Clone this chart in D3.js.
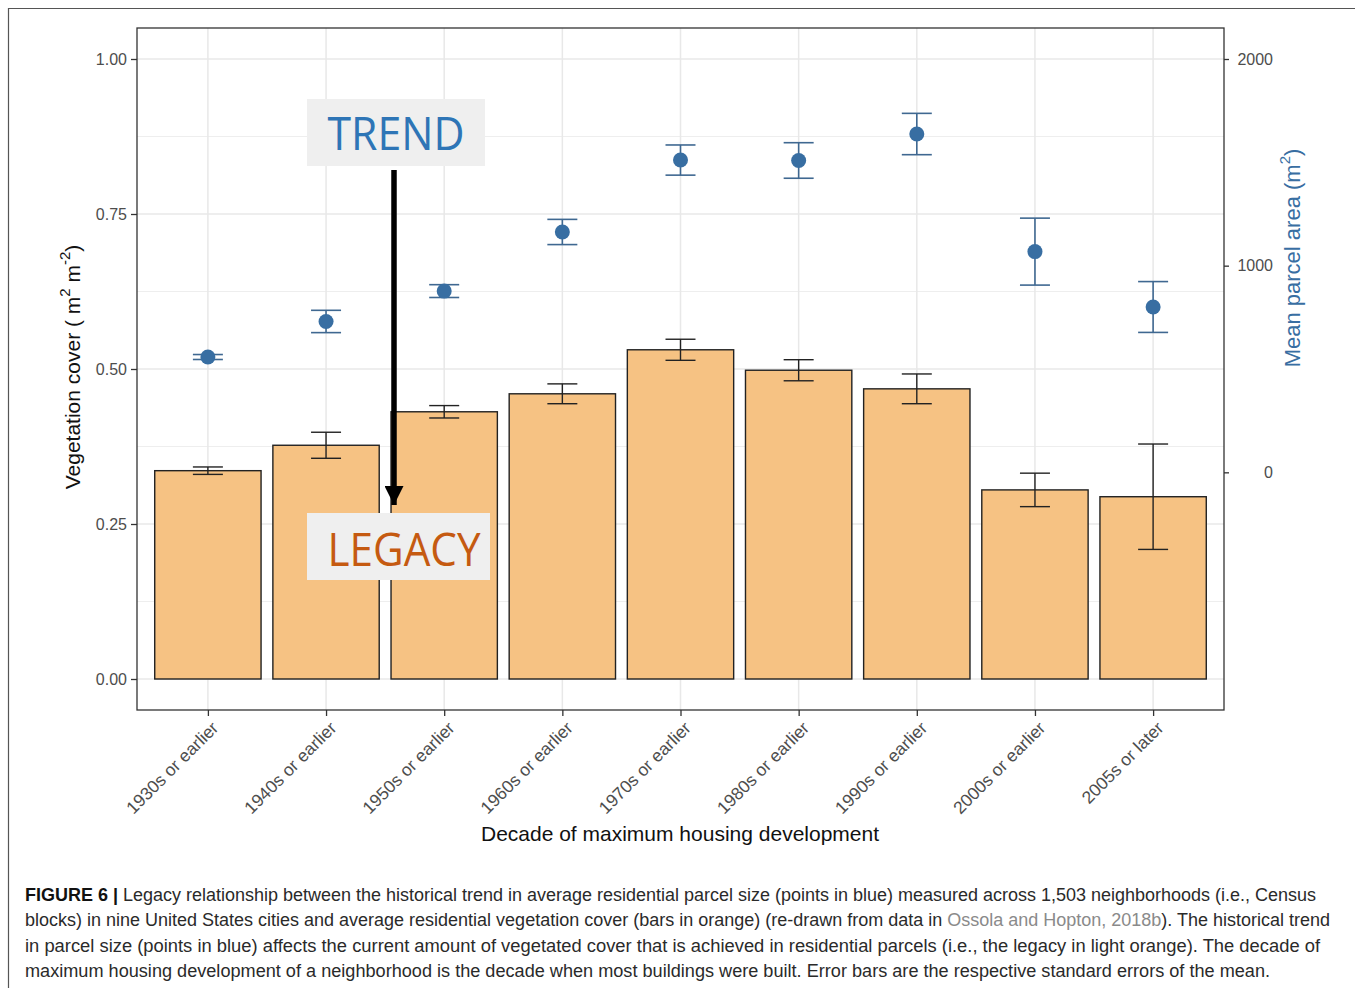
<!DOCTYPE html>
<html>
<head>
<meta charset="utf-8">
<script src="https://cdn.jsdelivr.net/npm/d3@7"></script>
<style>
  html, body { margin: 0; padding: 0; background: #fff; }
  svg { display: block; }
</style>
</head>
<body>
<svg id="chart" width="1355" height="988"></svg>
<script>
// categories and values
const decades = ['1930s or earlier', '1940s or earlier', '1950s or earlier', '1960s or earlier',
  '1970s or earlier', '1980s or earlier', '1990s or earlier', '2000s or earlier', '2005s or later'];
const vegCover = [0.336, 0.377, 0.431, 0.460, 0.531, 0.498, 0.468, 0.305, 0.294];
const vegSE = [0.006, 0.021, 0.010, 0.016, 0.017, 0.017, 0.024, 0.027, 0.085];
const parcelArea = [558, 730, 877, 1163, 1511, 1509, 1637, 1068, 800];
const parcelSE = [12, 54, 31, 61, 73, 86, 100, 162, 123];
const leftTicks = [0, 0.25, 0.5, 0.75, 1];
const leftMinor = [0.125, 0.375, 0.625, 0.875];
const rightTicks = [0, 1000, 2000];

const captionLines = [
  [{ t: 'FIGURE 6 | ', b: true }, { t: 'Legacy relationship between the historical trend in average residential parcel size (points in blue) measured across 1,503 neighborhoods (i.e., Census' }],
  [{ t: 'blocks) in nine United States cities and average residential vegetation cover (bars in orange) (re-drawn from data in ' }, { t: 'Ossola and Hopton, 2018b', link: true }, { t: '). The historical trend' }],
  [{ t: 'in parcel size (points in blue) affects the current amount of vegetated cover that is achieved in residential parcels (i.e., the legacy in light orange). The decade of' }],
  [{ t: 'maximum housing development of a neighborhood is the decade when most buildings were built. Error bars are the respective standard errors of the mean.' }]
];
const captionWidths = [1291, 1305, 1295, 1245];

const svg = d3.select('#chart');
const font = 'Liberation Sans, Arial, sans-serif';
const panel = { left: 137, right: 1224, top: 28, bottom: 710 };
const barFill = '#f6c283';
const blue = '#386ea2';
const blueBar = '#3f6891';

// figure frame
svg.append('path')
  .attr('d', 'M8.5,990 V8.5 H1360')
  .attr('fill', 'none')
  .attr('stroke', '#555')
  .attr('stroke-width', 1.2);

const x = d3.scalePoint().domain(decades).range([panel.left, panel.right]).padding(0.6);
const step = x.step();
const yL = d3.scaleLinear().domain([-0.05, 1.05]).range([panel.bottom, panel.top]);
// secondary axis: parcel = cover * 3000 - 1000
const yR = d3.scaleLinear().domain([-0.05 * 3000 - 1000, 1.05 * 3000 - 1000]).range([panel.bottom, panel.top]);

// grid
const grid = svg.append('g');
grid.selectAll('.minor').data(leftMinor).join('line')
  .attr('x1', panel.left).attr('x2', panel.right)
  .attr('y1', (d) => yL(d)).attr('y2', (d) => yL(d))
  .attr('stroke', '#eeeeee').attr('stroke-width', 1);
grid.selectAll('.major').data(leftTicks).join('line')
  .attr('x1', panel.left).attr('x2', panel.right)
  .attr('y1', (d) => yL(d)).attr('y2', (d) => yL(d))
  .attr('stroke', '#e8e8e8').attr('stroke-width', 1.5);
grid.selectAll('.vert').data(decades).join('line')
  .attr('x1', (d) => x(d)).attr('x2', (d) => x(d))
  .attr('y1', panel.top).attr('y2', panel.bottom)
  .attr('stroke', '#e8e8e8').attr('stroke-width', 1.5);

// bars
const barW = step * 0.9;
svg.append('g').selectAll('rect').data(decades).join('rect')
  .attr('x', (d) => x(d) - barW / 2)
  .attr('y', (d, i) => yL(vegCover[i]))
  .attr('width', barW)
  .attr('height', (d, i) => yL(0) - yL(vegCover[i]))
  .attr('fill', barFill)
  .attr('stroke', '#222')
  .attr('stroke-width', 1.4);

function errorBars(values, errs, scale, color, width) {
  const g = svg.append('g').attr('stroke', color).attr('stroke-width', width).attr('fill', 'none');
  const cap = 15;
  decades.forEach((d, i) => {
    const cx = x(d);
    const lo = scale(values[i] - errs[i]);
    const hi = scale(values[i] + errs[i]);
    g.append('line').attr('x1', cx).attr('x2', cx).attr('y1', lo).attr('y2', hi);
    g.append('line').attr('x1', cx - cap).attr('x2', cx + cap).attr('y1', lo).attr('y2', lo);
    g.append('line').attr('x1', cx - cap).attr('x2', cx + cap).attr('y1', hi).attr('y2', hi);
  });
}

errorBars(vegCover, vegSE, yL, '#222', 1.4);
errorBars(parcelArea, parcelSE, yR, blueBar, 1.6);

svg.append('g').selectAll('circle').data(decades).join('circle')
  .attr('cx', (d) => x(d))
  .attr('cy', (d, i) => yR(parcelArea[i]))
  .attr('r', 7.5)
  .attr('fill', blue);

// panel border
svg.append('rect')
  .attr('x', panel.left).attr('y', panel.top)
  .attr('width', panel.right - panel.left).attr('height', panel.bottom - panel.top)
  .attr('fill', 'none').attr('stroke', '#333').attr('stroke-width', 1.3);

// axes
const styleAxis = (g) => {
  g.select('.domain').remove();
  g.selectAll('.tick line').attr('stroke', '#333').attr('stroke-width', 1.3);
  g.selectAll('.tick text').attr('fill', '#4d4d4d').attr('font-size', 16).attr('font-family', font);
};

svg.append('g')
  .attr('transform', `translate(${panel.left},0)`)
  .call(d3.axisLeft(yL).tickValues(leftTicks).tickFormat(d3.format('.2f')).tickSize(6).tickPadding(4))
  .call(styleAxis);

svg.append('g')
  .attr('transform', `translate(${panel.right},0)`)
  .call(d3.axisRight(yR).tickValues(rightTicks).tickFormat(d3.format('d')).tickSize(5).tickPadding(4))
  .call(styleAxis)
  .call((g) => g.selectAll('.tick text').attr('text-anchor', 'end').attr('x', 49));

const xAxis = svg.append('g')
  .attr('transform', `translate(0,${panel.bottom})`)
  .call(d3.axisBottom(x).tickSize(6))
  .call(styleAxis);
xAxis.selectAll('.tick text')
  .attr('text-anchor', 'end')
  .attr('font-size', 17.5)
  .attr('x', 0).attr('y', 0).attr('dy', 0)
  .attr('transform', 'translate(11,19) rotate(-45)');

// axis titles
svg.append('text')
  .attr('x', 680).attr('y', 841)
  .attr('text-anchor', 'middle')
  .attr('font-family', font).attr('font-size', 21).attr('fill', '#111')
  .text('Decade of maximum housing development');

const yTitle = svg.append('text')
  .attr('transform', 'translate(80,367) rotate(-90)')
  .attr('text-anchor', 'middle')
  .attr('font-family', font).attr('font-size', 21).attr('fill', '#111');
yTitle.append('tspan').text('Vegetation cover ( m');
yTitle.append('tspan').attr('dy', -10).attr('font-size', 15).text('2');
yTitle.append('tspan').attr('dy', 10).text(' m');
yTitle.append('tspan').attr('dy', -10).attr('font-size', 15).text('-2');
yTitle.append('tspan').attr('dy', 10).text(')');

const rTitle = svg.append('text')
  .attr('transform', 'translate(1300,258) rotate(-90)')
  .attr('text-anchor', 'middle')
  .attr('font-family', font).attr('font-size', 22).attr('fill', blue);
rTitle.append('tspan').text('Mean parcel area (m');
rTitle.append('tspan').attr('dy', -10).attr('font-size', 15).text('2');
rTitle.append('tspan').attr('dy', 10).text(')');

// TREND -> LEGACY annotation
const annFont = 'Open Sans, Lato, sans-serif';
svg.append('rect').attr('x', 307).attr('y', 99).attr('width', 178).attr('height', 67).attr('fill', '#efefef');
svg.append('text').attr('x', 396).attr('y', 150).attr('text-anchor', 'middle')
  .attr('font-family', annFont).attr('font-size', 45).attr('fill', '#2e75b6')
  .attr('textLength', 137).attr('lengthAdjust', 'spacingAndGlyphs').text('TREND');

svg.append('defs').append('marker')
  .attr('id', 'arrow').attr('viewBox', '0 0 10 10').attr('refX', 10).attr('refY', 5)
  .attr('markerUnits', 'userSpaceOnUse').attr('markerWidth', 19).attr('markerHeight', 19)
  .attr('orient', 'auto')
  .append('path').attr('d', 'M0,0 L10,5 L0,10 Z').attr('fill', '#000');
svg.append('line').attr('x1', 394).attr('x2', 394).attr('y1', 170).attr('y2', 505)
  .attr('stroke', '#000').attr('stroke-width', 5.5).attr('marker-end', 'url(#arrow)');

svg.append('rect').attr('x', 307).attr('y', 513).attr('width', 183).attr('height', 67).attr('fill', '#efefef');
svg.append('text').attr('x', 404).attr('y', 566).attr('text-anchor', 'middle')
  .attr('font-family', annFont).attr('font-size', 46).attr('fill', '#c55a11')
  .attr('textLength', 153).attr('lengthAdjust', 'spacingAndGlyphs').text('LEGACY');

// caption
const cap = svg.append('g').attr('font-family', font).attr('font-size', 17.5).attr('fill', '#2a2a2a');
captionLines.forEach((parts, i) => {
  const t = cap.append('text').attr('x', 25).attr('y', 901 + i * 25.3)
    .attr('textLength', captionWidths[i]).attr('lengthAdjust', 'spacingAndGlyphs');
  parts.forEach((p) => {
    const s = t.append('tspan').text(p.t);
    if (p.b) s.attr('font-weight', 'bold').attr('fill', '#111');
    if (p.link) s.attr('fill', '#8a8a8a');
  });
});
</script>
</body>
</html>
